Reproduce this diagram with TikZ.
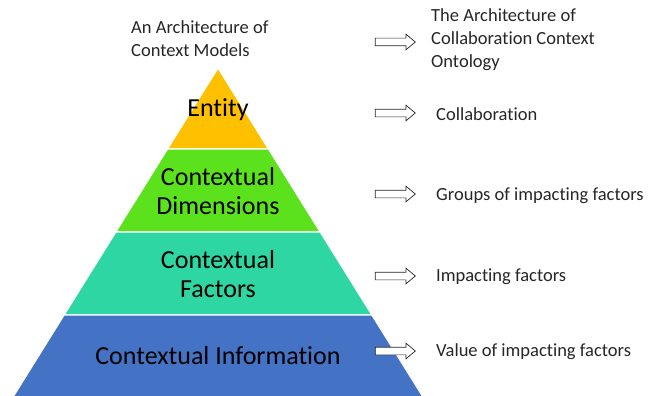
\documentclass[tikz,border=0pt]{standalone}
\usepackage{fontspec}
\setmainfont{Carlito}[Ligatures={NoCommon}]
\usepackage{tikz}
\usepackage{xcolor}
\usetikzlibrary{shapes, shapes.arrows, positioning, calc}

\definecolor{entityGold}{RGB}{255,192,0}
\definecolor{dimGreen}{RGB}{92,226,28}
\definecolor{factorTeal}{RGB}{46,214,163}
\definecolor{infoBlue}{RGB}{68,114,196}
\definecolor{noteGray}{RGB}{38,38,38}

\tikzset{
    layertext/.style={font=\fontsize{26}{29}\selectfont, align=center, text=black},
    sidetext/.style={font=\fontsize{18.5}{23}\selectfont, align=left, anchor=west,
        inner xsep=0pt, text=noteGray},
    blockarrow/.style={single arrow, draw=noteGray, fill=white, line width=0.7pt,
        inner xsep=0pt, inner ysep=3.5pt, single arrow head extend=4pt,
        single arrow tip angle=80, minimum height=40pt}
}

\begin{document}
\begin{tikzpicture}[x=1pt, y=-1pt]
    \useasboundingbox (0,0) rectangle (648,396);
    % Draw the pyramid layers (apex at 218,68)
    \def\k{0.623}
    \foreach \ytop/\ybot/\col in {68/149/entityGold, 149/232/dimGreen, 232/315/factorTeal, 315/400/infoBlue} {
        \fill[\col, draw=white, line width=1.2pt]
            ({218-\k*(\ytop-68)},\ytop) -- ({218+\k*(\ytop-68)},\ytop)
            -- ({218+\k*(\ybot-68)},\ybot) -- ({218-\k*(\ybot-68)},\ybot) -- cycle;
    }

    % Layer names
    \node[layertext] (entity) at (218,110) {Entity};
    \node[layertext] (dims) at (218,191) {Contextual\\Dimensions};
    \node[layertext] (factors) at (218,274) {Contextual\\Factors};
    \node[layertext] (info) at (218,356) {Contextual Information};

    % Titles
    \node[sidetext] (lefttitle) at (131,39) {An Architecture of\\Context Models};
    \node[sidetext] (righttitle) at (431,40) {The Architecture of\\Collaboration Context\\Ontology};

    % Arrows to the ontology side
    \node[blockarrow] (arr1) at (393,42) {};
    \node[blockarrow] (arr2) at (393,113) {};
    \node[blockarrow] (arr3) at (393,194) {};
    \node[blockarrow] (arr4) at (393,276) {};
    \node[blockarrow] (arr5) at (393,351) {};

    % Ontology levels
    \node[sidetext] (collab) at (436,114) {Collaboration};
    \node[sidetext] (groups) at (436,196) {Groups of impacting factors};
    \node[sidetext] (impact) at (436,277) {Impacting factors};
    \node[sidetext] (value) at (436,352) {Value of impacting factors};
\end{tikzpicture}
\end{document}
